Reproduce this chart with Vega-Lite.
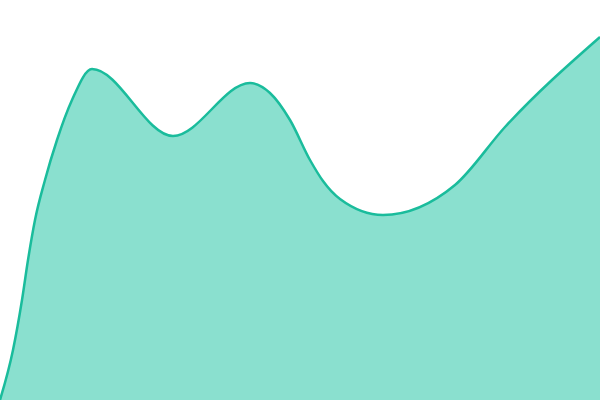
{
  "$schema": "https://vega.github.io/schema/vega-lite/v6.json",
  "width": 600,
  "height": 400,
  "autosize": {"type": "none"},
  "padding": 0,
  "config": {"view": {"stroke": null}},
  "data": {
    "values": [
      {"x": 0, "v": 0},
      {"x": 13, "v": 50},
      {"x": 22, "v": 100},
      {"x": 28, "v": 140},
      {"x": 35, "v": 180},
      {"x": 45, "v": 220},
      {"x": 57, "v": 260},
      {"x": 72, "v": 300},
      {"x": 92, "v": 331},
      {"x": 173, "v": 264},
      {"x": 250, "v": 317},
      {"x": 270, "v": 307},
      {"x": 290, "v": 280},
      {"x": 310, "v": 240},
      {"x": 323, "v": 219},
      {"x": 340, "v": 201},
      {"x": 383, "v": 185},
      {"x": 455, "v": 215},
      {"x": 505, "v": 273},
      {"x": 600, "v": 363}
    ]
  },
  "mark": {
    "type": "area",
    "interpolate": "monotone",
    "color": "#8ae0cf",
    "opacity": 1,
    "line": {"color": "#1abc9c", "strokeWidth": 2.5}
  },
  "encoding": {
    "x": {"field": "x", "type": "quantitative", "axis": null, "scale": {"domain": [0, 600], "nice": false}},
    "y": {"field": "v", "type": "quantitative", "axis": null, "scale": {"domain": [0, 400], "nice": false}}
  }
}
